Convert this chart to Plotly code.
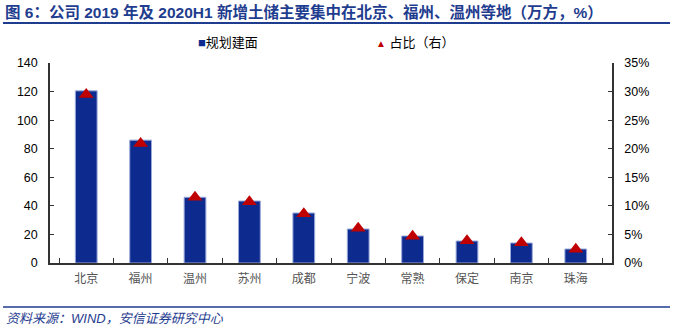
import plotly.graph_objects as go

cities = ["北京", "福州", "温州", "苏州", "成都", "宁波", "常熟", "保定", "南京", "珠海"]
area = [120.5, 86, 46, 43.4, 35, 23.8, 18.9, 15.4, 14, 9.8]
share = [0.295, 0.209, 0.115, 0.107, 0.086, 0.061, 0.047, 0.039, 0.0355, 0.024]
left_ticks = [0, 20, 40, 60, 80, 100, 120, 140]
right_ticks = [0, 0.05, 0.10, 0.15, 0.20, 0.25, 0.30, 0.35]

title_text = "图 6：公司 2019 年及 2020H1 新增土储主要集中在北京、福州、温州等地（万方，%）"
source_text = "资料来源：WIND，安信证券研究中心"
legend_bar = "规划建面"
legend_tri = "占比（右）"

BLUE = "#0d2a8f"
RED = "#c00000"
TXT_BLUE = "#1f3d8f"
FONT = "Liberation Sans, Noto Sans CJK SC, Arial, sans-serif"

PW, PH = 562, 200
def px(x):
    return (x - 50) / PW
def py(y):
    return (263 - y) / PH

fig = go.Figure()
fig.add_trace(go.Bar(
    x=cities, y=area, name=legend_bar, marker=dict(color=BLUE, line=dict(color="#9aa8d8", width=1)),
    width=0.4, yaxis="y",
))
fig.add_trace(go.Scatter(
    x=cities, y=share, name=legend_tri, mode="markers", yaxis="y2",
    marker=dict(symbol="triangle-up", color=RED, size=13),
))

fig.update_layout(
    width=676, height=327,
    margin=dict(l=50, r=64, t=63, b=64, autoexpand=False),
    paper_bgcolor="white", plot_bgcolor="white",
    font=dict(family=FONT, size=12, color="#000"),
    showlegend=False,
    xaxis=dict(showline=True, linecolor="#333", linewidth=1.5, ticks="inside", ticklen=5,
               tickcolor="#333", tickson="boundaries", tickfont=dict(color="#555", size=12),
               showgrid=False, zeroline=False, automargin=False, ticklabelstandoff=4),
    yaxis=dict(range=[0, 140], tickvals=left_ticks, showline=True, linecolor="#333", linewidth=1.5,
               ticks="inside", ticklen=4, tickcolor="#333", showgrid=False, zeroline=False,
               tickfont=dict(size=12.5, color="#000"), automargin=False, ticklabelstandoff=8),
    yaxis2=dict(range=[0, 0.35], tickvals=right_ticks, tickformat=".0%", overlaying="y", side="right",
                showline=True, linecolor="#333", linewidth=1.5, ticks="inside", ticklen=4,
                tickcolor="#333", showgrid=False, zeroline=False, tickfont=dict(size=12.5, color="#000"),
                automargin=False, ticklabelstandoff=8),
)

# title
fig.add_annotation(text="<b>" + title_text + "</b>", xref="paper", yref="paper",
                   x=px(3), y=py(12), xanchor="left", yanchor="middle",
                   showarrow=False, font=dict(size=15.5, color=TXT_BLUE, family=FONT))
fig.add_shape(type="line", xref="paper", yref="paper", x0=px(3), x1=px(670),
              y0=py(23), y1=py(23), line=dict(color=TXT_BLUE, width=2))
# legend
fig.add_annotation(text="<span style='color:%s'>■</span>%s" % (BLUE, legend_bar), xref="paper", yref="paper",
                   x=px(196), y=py(42), xanchor="left", yanchor="middle",
                   showarrow=False, font=dict(size=13, color="#000", family=FONT))
fig.add_annotation(text="<span style='color:%s;font-size:10px'>▲</span> %s" % (RED, legend_tri), xref="paper", yref="paper",
                   x=px(374), y=py(42), xanchor="left", yanchor="middle",
                   showarrow=False, font=dict(size=13, color="#000", family=FONT))
# footer
fig.add_shape(type="line", xref="paper", yref="paper", x0=px(3), x1=px(670),
              y0=py(307), y1=py(307), line=dict(color=TXT_BLUE, width=1.5))
fig.add_annotation(text="<i>" + source_text + "</i>", xref="paper", yref="paper",
                   x=px(4), y=py(318), xanchor="left", yanchor="middle",
                   showarrow=False, font=dict(size=13, color=TXT_BLUE, family=FONT))

fig.write_html("out.html")
